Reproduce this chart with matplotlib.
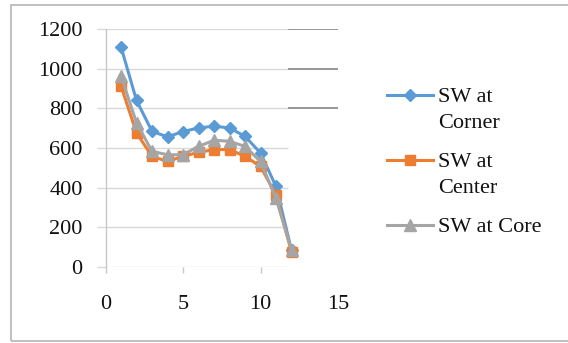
import matplotlib.pyplot as plt
from matplotlib.lines import Line2D
from matplotlib.patches import Rectangle

plt.rcParams['font.family'] = ['Liberation Serif', 'DejaVu Serif']

# SW readings at positions 1..12
positions = list(range(1, 13))
sw_corner = [1110, 840, 684, 656, 683, 701, 710, 701, 659, 575, 406, 85]
sw_center = [913, 676, 558, 532, 558, 578, 592, 592, 558, 507, 363, 76]
sw_core = [963, 727, 583, 566, 566, 608, 639, 634, 608, 532, 346, 85]

series_labels = ['SW at\nCorner', 'SW at\nCenter', 'SW at Core']
series_colors = ['#5B9BD5', '#ED7D31', '#A5A5A5']
series_markers = ['D', 's', '^']
marker_sizes = [6, 7, 8]

y_ticks = [0, 200, 400, 600, 800, 1000, 1200]
x_ticks = [0, 5, 10, 15]

W, H = 568, 343
fig = plt.figure(figsize=(W / 100, H / 100), dpi=100)

# chart frame
fig.add_artist(Rectangle((11 / W, 1 - 341 / H), 1.2, (341 - 5) / H,
                         transform=fig.transFigure, fill=False,
                         edgecolor='#BBBBBB', linewidth=1.3))

ax = fig.add_axes([105.5 / W, 1 - 267 / H, 232.5 / W, 238 / H])
ax.set_xlim(0, 15)
ax.set_ylim(0, 1200)

for s in ['top', 'right', 'bottom']:
    ax.spines[s].set_visible(False)
ax.spines['left'].set_color('#C8C8C8')
ax.spines['left'].set_linewidth(1.0)

# horizontal gridlines, the part past x=11.8 is hidden except the top three
ax.hlines(y_ticks, 0, 11.8, colors='#D9D9D9', linewidth=1.0, zorder=1)
ax.hlines([v for v in y_ticks if v >= 800], 11.8, 15, colors='#7A7A7A',
          linewidth=1.1, zorder=1)

data = [sw_corner, sw_center, sw_core]
for vals, lab, col, mk, ms in zip(data, series_labels, series_colors,
                                  series_markers, marker_sizes):
    ax.plot(positions, vals, color=col, linewidth=2.2, marker=mk,
            markersize=ms, markerfacecolor=col, markeredgecolor=col,
            label=lab, zorder=3, clip_on=False)

ax.set_yticks(y_ticks)
ax.set_xticks(x_ticks)
ax.tick_params(axis='y', direction='out', length=6.5, width=1.0,
               color='#D9D9D9', pad=10, labelsize=16, labelcolor='#111111')
ax.tick_params(axis='x', direction='out', length=4.5, width=1.0,
               color='#C8C8C8', pad=16, labelsize=16, labelcolor='#111111')
ax.xaxis.get_major_ticks()[-1].tick1line.set_visible(False)

# legend drawn beside the plot
leg_y = [95, 160, 225]
for lab, col, mk, ms, yy in zip(series_labels, series_colors, series_markers,
                                marker_sizes, leg_y):
    fy = 1 - yy / H
    fig.add_artist(Line2D([387 / W, 410 / W, 433 / W], [fy, fy, fy],
                          transform=fig.transFigure, color=col, linewidth=2.2,
                          marker=mk, markersize=ms, markevery=[1],
                          markerfacecolor=col, markeredgecolor=col))
    fig.text(438 / W, 1 - (yy - 7) / H, lab, fontsize=16, color='#111111',
             va='top', ha='left', linespacing=1.5)

fig.savefig('out.png', dpi=100)
